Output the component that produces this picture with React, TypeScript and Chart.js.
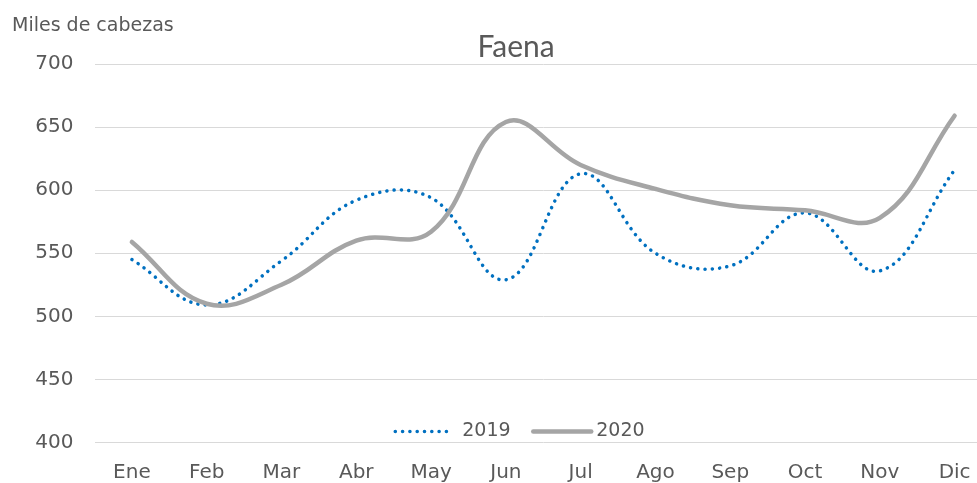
import React, { useEffect, useRef } from "react";
import { Chart, registerables } from "chart.js";

Chart.register(...registerables);

const months = ["Ene", "Feb", "Mar", "Abr", "May", "Jun", "Jul", "Ago", "Sep", "Oct", "Nov", "Dic"];
const faena2019 = [545, 509, 544, 592, 594, 529, 613, 550, 540, 582, 536, 616];
const faena2020 = [559, 510, 525, 560, 567, 654, 620, 601, 588, 584, 578, 659];
const seriesNames = ["2019", "2020"];
const yMin = 400;
const yMax = 700;
const yStep = 50;
const chartTitle = "Faena";
const unitLabel = "Miles de cabezas";

const TEXT = "#595959";
const FONT = "DejaVu Sans";

const extrasPlugin = {
  id: "extras",
  afterDraw(chart: any) {
    const ctx = chart.ctx;
    const ca = chart.chartArea;
    ctx.save();
    ctx.fillStyle = TEXT;
    ctx.font = `19px "${FONT}"`;
    ctx.textAlign = "left";
    ctx.textBaseline = "alphabetic";
    ctx.fillText(unitLabel, 12, 31);

    // title
    ctx.font = `30px "Lato"`;
    ctx.textAlign = "center";
    ctx.textBaseline = "middle";
    ctx.fillText(chartTitle, 516, ca.top - 16.5);

    // legend inside plot area, bottom center
    const cx = (ca.left + ca.right) / 2;
    const y = ca.bottom - 11;
    const items = [
      { x0: cx - 148, len: 56, tx: cx - 81 },
      { x0: cx - 10, len: 58, tx: cx + 53 },
    ];
    ctx.font = `19px "${FONT}"`;
    ctx.textAlign = "left";
    ctx.textBaseline = "middle";
    chart.data.datasets.forEach((ds: any, i: number) => {
      const it = items[i];
      ctx.save();
      ctx.strokeStyle = ds.borderColor;
      ctx.lineWidth = ds.borderWidth;
      ctx.lineCap = ds.borderCapStyle || "butt";
      ctx.setLineDash(ds.borderDash || []);
      ctx.beginPath();
      ctx.moveTo(it.x0, y);
      ctx.lineTo(it.x0 + it.len, y);
      ctx.stroke();
      ctx.restore();
      ctx.fillStyle = TEXT;
      ctx.fillText(ds.label, it.tx, y);
    });
    ctx.restore();
  },
};

export default function App() {
  const ref = useRef<HTMLCanvasElement | null>(null);
  useEffect(() => {
    if (!ref.current) return;
    const chart = new Chart(ref.current, {
      type: "line",
      data: {
        labels: months,
        datasets: [
          {
            label: seriesNames[0],
            data: faena2019,
            borderColor: "#0070C0",
            backgroundColor: "#0070C0",
            borderWidth: 3.5,
            borderDash: [0.1, 7.2],
            borderCapStyle: "round",
            tension: 0.4,
            pointRadius: 0,
            fill: false,
            order: 1,
          },
          {
            label: seriesNames[1],
            data: faena2020,
            borderColor: "#A5A5A5",
            backgroundColor: "#A5A5A5",
            borderWidth: 4.5,
            borderCapStyle: "round",
            tension: 0.4,
            pointRadius: 0,
            fill: false,
            order: 0,
          },
        ],
      },
      options: {
        animation: false,
        responsive: false,
        layout: { padding: { left: 12, right: 0, top: 64, bottom: 0 } },
        plugins: {
          legend: { display: false },
          tooltip: { enabled: false },
          title: { display: false },
        },
        scales: {
          x: {
            offset: true,
            grid: { display: false, drawTicks: false },
            border: { display: false },
            ticks: {
              color: TEXT,
              font: { family: FONT, size: 20 },
              padding: 18,
              maxRotation: 0,
              autoSkip: false,
            },
            afterFit: (s: any) => {
              s.height = 40.5;
            },
          },
          y: {
            min: yMin,
            max: yMax,
            ticks: {
              stepSize: yStep,
              color: TEXT,
              font: { family: FONT, size: 20 },
              padding: 21,
            },
            grid: { color: "#d9d9d9", lineWidth: 1, drawTicks: false },
            border: { display: false },
            afterFit: (s: any) => {
              s.width = 82.5;
            },
          },
        },
      },
      plugins: [extrasPlugin],
    } as any);
    return () => chart.destroy();
  }, []);
  return (
    <div style={{ position: "fixed", left: 0, top: 0, width: 992, height: 483, background: "#fff" }}>
      <canvas ref={ref} width={992} height={483} style={{ display: "block" }} />
    </div>
  );
}
